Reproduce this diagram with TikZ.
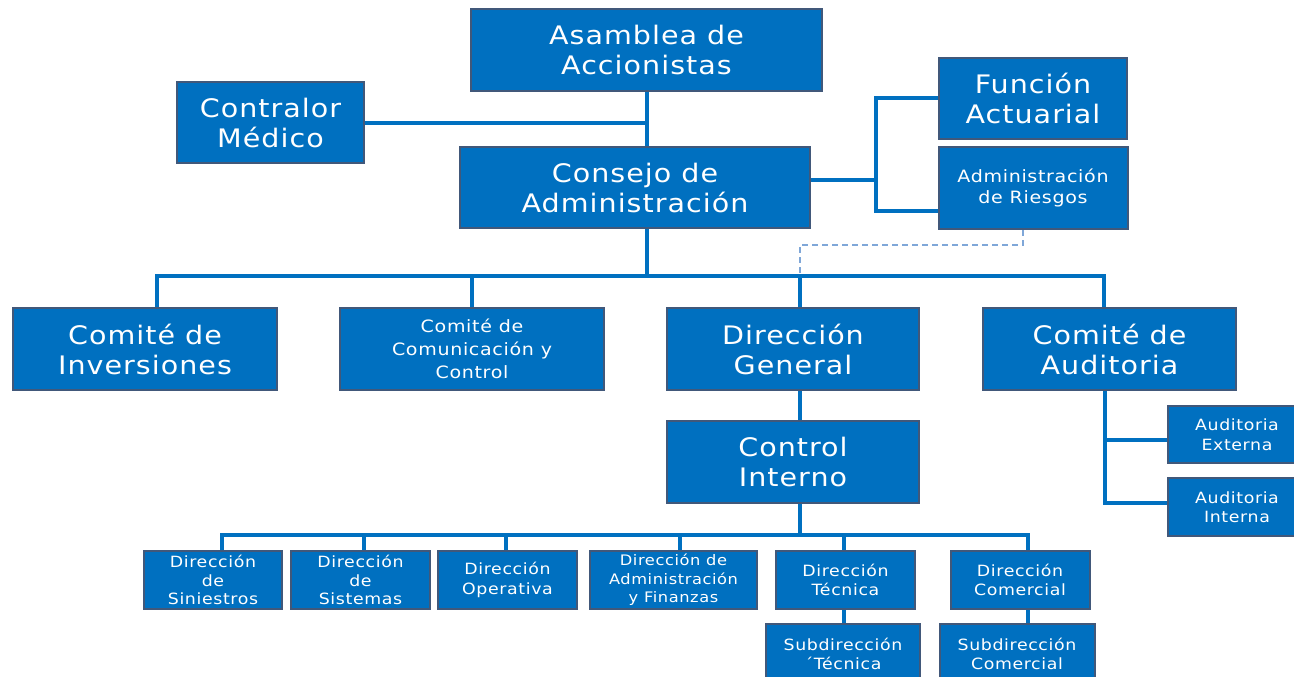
\documentclass[tikz,border=0pt]{standalone}
\usepackage{fontspec}
\setmainfont{DejaVu Sans}[FakeStretch=1.12, LetterSpace=4]
\definecolor{boxblue}{RGB}{0,112,192}
\definecolor{boxedge}{RGB}{65,88,122}
\definecolor{dashblue}{RGB}{127,167,216}
\tikzset{
  box/.style={draw=boxedge, line width=2pt, fill=boxblue, text=white, align=center, inner sep=0pt},
  fbig/.style={font=\fontsize{25.5}{30}\selectfont},
  fmid/.style={font=\fontsize{17}{21}\selectfont},
  fcom/.style={font=\fontsize{17}{23}\selectfont},
  fsmall/.style={font=\fontsize{15.5}{19.5}\selectfont},
  fbot/.style={font=\fontsize{15.5}{18.5}\selectfont},
  conn/.style={draw=boxblue, line width=4pt},
  dashline/.style={draw=dashblue, line width=2pt, dash pattern=on 6pt off 4pt},
}
\begin{document}
\begin{tikzpicture}[x=1pt, y=-1pt]
\useasboundingbox (0,0) rectangle (1294,677);
\clip (0,0) rectangle (1294,677);
% nodes
\node[box, fbig, minimum width=351, minimum height=82] (asam) at (646.5,50) {Asamblea de\\Accionistas};
\node[box, fbig, minimum width=187, minimum height=81] (contr) at (270.5,122.5) {Contralor\\Médico};
\node[box, fbig, minimum width=350, minimum height=81] (cons) at (635,187.5) {Consejo de\\Administración};
\node[box, fbig, minimum width=188, minimum height=81] (func) at (1033,98.5) {Función\\Actuarial};
\node[box, fmid, minimum width=189, minimum height=82] (riesg) at (1033,188) {Administración\\de Riesgos};
\node[box, fbig, minimum width=264, minimum height=82] (inv) at (145,349) {Comité de\\Inversiones};
\node[box, fcom, minimum width=264, minimum height=82] (comu) at (472,349) {Comité de\\Comunicación y\\Control};
\node[box, fbig, minimum width=252, minimum height=82] (dg) at (793,349) {Dirección\\General};
\node[box, fbig, minimum width=253, minimum height=82] (caud) at (1109.5,349) {Comité de\\Auditoria};
\node[box, fbig, minimum width=252, minimum height=82] (ci) at (793,462) {Control\\Interno};
\node[box, fsmall, minimum width=138, minimum height=57] (aext) at (1237,434.5) {Auditoria\\Externa};
\node[box, fsmall, minimum width=138, minimum height=58] (aint) at (1237,507) {Auditoria\\Interna};
\node[box, fbot, minimum width=138, minimum height=58] (sin) at (213,580) {Dirección\\de\\Siniestros};
\node[box, fbot, minimum width=139, minimum height=58] (sis) at (360.5,580) {Dirección\\de\\Sistemas};
\node[box, fsmall, minimum width=139, minimum height=58] (ope) at (507.5,580) {Dirección\\Operativa};
\node[box, fbot, minimum width=167, minimum height=58, font=\fontsize{14.5}{18.5}\selectfont] (adm) at (673.5,580) {Dirección de\\Administración\\y Finanzas};
\node[box, fsmall, minimum width=139, minimum height=58] (tec) at (845.5,580) {Dirección\\Técnica};
\node[box, fsmall, minimum width=139, minimum height=58] (com) at (1020,580) {Dirección\\Comercial};
\node[box, fsmall, minimum width=154, minimum height=60] (stec) at (843,654) {Subdirección\\´Técnica};
\node[box, fsmall, minimum width=155, minimum height=60] (scom) at (1017,654) {Subdirección\\Comercial};
% helper coordinates
\coordinate (busC) at (646.5,276);
\coordinate (br) at (876,180);
\coordinate (dgbus) at (800,276);
\coordinate (dbend) at (800,245);
\coordinate (bus2) at (800,535);
% connectors
\draw[conn] (asam.south) -- (asam.south |- cons.north);
\draw[conn] (contr.east) -- (contr.east -| asam.south);
\draw[conn] (asam.south |- cons.south) -- (busC);
\draw[conn] ([xshift=12]inv.north) |- (busC) -| ([xshift=-5.5]caud.north);
\draw[conn] (comu.north) -- (comu.north |- busC);
\draw[conn] ([xshift=7]dg.north) -- (dgbus);
\draw[conn] ([yshift=7.5]cons.east) -- (br);
\draw[conn] (func.west) -| (br) |- ([yshift=-23]riesg.west);
\draw[dashline] ([xshift=-10]riesg.south) |- (dbend) -- (dgbus);
\draw[conn] ([xshift=7]dg.south) -- ([xshift=7]dg.south |- ci.north);
\draw[conn] ([xshift=7]ci.south) -- (bus2);
\draw[conn] ([xshift=9]sin.north) |- (bus2) -| ([xshift=8]com.north);
\draw[conn] ([xshift=3.5]sis.north) -- ([xshift=3.5]sis.north |- bus2);
\draw[conn] ([xshift=-1.5]ope.north) -- ([xshift=-1.5]ope.north |- bus2);
\draw[conn] ([xshift=6.5]adm.north) -- ([xshift=6.5]adm.north |- bus2);
\draw[conn] ([xshift=-1.5]tec.north) -- ([xshift=-1.5]tec.north |- bus2);
\draw[conn] ([xshift=-1.5]tec.south) -- ([xshift=-1.5]tec.south |- stec.north);
\draw[conn] ([xshift=8]com.south) -- ([xshift=8]com.south |- scom.north);
\draw[conn] ([xshift=-4.5]caud.south) |- ([yshift=4]aint.west);
\draw[conn] ([yshift=-5.5]aext.west) -| ([xshift=-4.5]caud.south);
\end{tikzpicture}
\end{document}
